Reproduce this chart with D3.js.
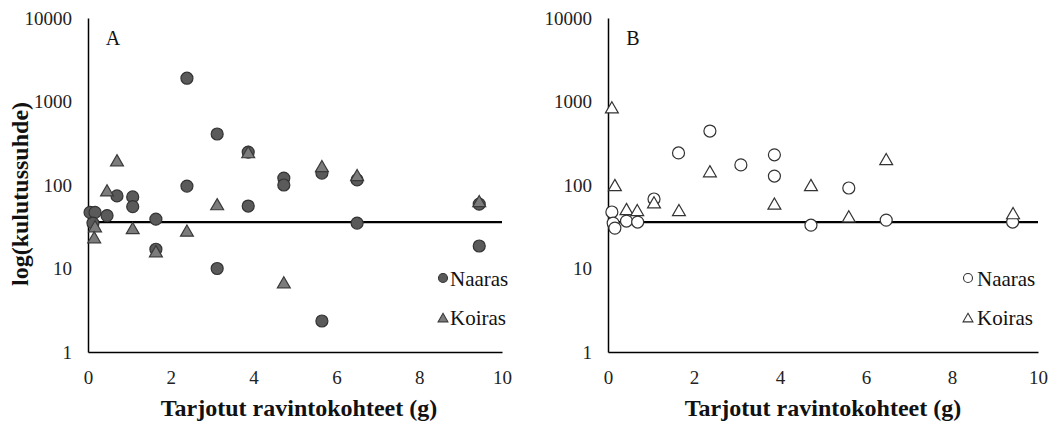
<!DOCTYPE html>
<html>
<head>
<meta charset="utf-8">
<script src="https://cdn.jsdelivr.net/npm/d3@7"></script>
<style>
  html, body { margin: 0; padding: 0; background: #fff; }
  svg { display: block; }
  svg text { font-family: "Liberation Serif", "Times New Roman", serif !important; }
</style>
</head>
<body>
<svg id="chart" width="1062" height="425"></svg>
<script>
// ---- data ----
const yTicks = [1, 10, 100, 1000, 10000];
const xTicks = [0, 2, 4, 6, 8, 10];
const seriesNames = ["Naaras", "Koiras"];
const referenceLevel = 36;

const xA_naaras = [0.05, 0.17, 0.12, 0.46, 0.70, 1.08, 1.08, 1.64, 1.64, 2.39, 2.39, 3.12, 3.12, 3.87, 3.87, 4.73, 4.73, 5.65, 5.65, 6.50, 6.50, 9.45, 9.45];
const yA_naaras = [47, 47, 35, 43, 74, 72, 55, 39, 17, 1900, 97, 408, 10, 248, 56, 121, 100, 139, 2.35, 115, 35, 59, 18.6];
const xA_koiras = [0.17, 0.15, 0.46, 0.70, 1.08, 1.64, 2.39, 3.12, 3.87, 4.73, 5.65, 6.50, 9.45];
const yA_koiras = [30.5, 22.5, 82, 188, 29, 15.3, 27, 56, 235, 6.5, 160, 125, 61];

const xB_naaras = [0.09, 0.12, 0.16, 0.43, 0.69, 1.07, 1.64, 2.37, 3.09, 3.87, 3.87, 4.72, 5.60, 6.47, 9.41];
const yB_naaras = [47.5, 35, 30.5, 37, 36, 68, 242, 443, 174, 230, 128, 33, 92, 38, 36];
const xB_koiras = [0.09, 0.16, 0.43, 0.68, 1.07, 1.65, 2.37, 3.87, 4.72, 5.60, 6.47, 9.42];
const yB_koiras = [810, 95, 49, 47.5, 59, 47.5, 139, 57, 95, 40, 194, 43.7];

const zip = (xs, ys) => xs.map((x, i) => ({x, y: ys[i]}));
const FONT = '"Liberation Serif", "Times New Roman", serif';

const svg = d3.select("#chart").attr("font-family", FONT);

function drawPanel(cfg) {
  const x = d3.scaleLinear().domain([0, 10]).range([cfg.left, cfg.right]);
  const y = d3.scaleLog().domain([1, 10000]).range([cfg.bottom, cfg.top]);
  const g = svg.append("g");

  // y axis
  const yAxis = d3.axisLeft(y).tickValues(yTicks).tickFormat(d3.format("d")).tickSize(0).tickPadding(16);
  const ya = g.append("g").attr("transform", `translate(${cfg.left},0)`).call(yAxis)
    .attr("font-family", FONT).attr("font-size", 19);
  ya.select(".domain").attr("stroke", "#000").attr("stroke-width", 1.5);
  ya.selectAll("text").attr("fill", "#222");

  // x axis
  const xAxis = d3.axisBottom(x).tickValues(xTicks).tickSize(0).tickPadding(19);
  const xa = g.append("g").attr("transform", `translate(0,${cfg.bottom})`).call(xAxis)
    .attr("font-family", FONT).attr("font-size", 19);
  xa.select(".domain").attr("stroke", "#000").attr("stroke-width", 1.5);
  xa.selectAll("text").attr("fill", "#222");

  // reference line
  g.append("line")
    .attr("x1", x(0)).attr("x2", x(10))
    .attr("y1", y(referenceLevel)).attr("y2", y(referenceLevel))
    .attr("stroke", "#000").attr("stroke-width", 2.2);

  // circles (Naaras)
  g.append("g").selectAll("circle").data(zip(cfg.xn, cfg.yn)).join("circle")
    .attr("cx", d => x(d.x)).attr("cy", d => y(d.y)).attr("r", 6)
    .attr("fill", cfg.circleFill).attr("stroke", cfg.circleStroke).attr("stroke-width", 1.2);

  // triangles (Koiras)
  const tri = d3.symbol().type(d3.symbolTriangle).size(72);
  g.append("g").selectAll("path").data(zip(cfg.xk, cfg.yk)).join("path")
    .attr("d", tri)
    .attr("transform", d => `translate(${x(d.x)},${y(d.y)})`)
    .attr("fill", cfg.triFill).attr("stroke", cfg.triStroke).attr("stroke-width", 1.2);

  // panel letter
  g.append("text").attr("x", cfg.left + 25).attr("y", 45)
    .attr("font-size", 20).attr("fill", "#111").attr("text-anchor", "middle").text(cfg.letter);

  // legend
  const lx = cfg.legendX, ly = cfg.legendY;
  g.append("circle").attr("cx", lx).attr("cy", ly).attr("r", 4.5)
    .attr("fill", cfg.circleFill).attr("stroke", cfg.circleStroke).attr("stroke-width", 1.1);
  g.append("text").attr("x", lx + cfg.legendGap).attr("y", ly + 8).attr("font-size", 21).attr("fill", "#111").text(seriesNames[0]);
  g.append("path").attr("d", d3.symbol().type(d3.symbolTriangle).size(42))
    .attr("transform", `translate(${lx},${ly + 41})`)
    .attr("fill", cfg.triFill).attr("stroke", cfg.triStroke).attr("stroke-width", 1.1);
  g.append("text").attr("x", lx + cfg.legendGap).attr("y", ly + 47).attr("font-size", 21).attr("fill", "#111").text(seriesNames[1]);

  // x title
  g.append("text").attr("x", (cfg.left + cfg.right) / 2 + cfg.titleShift).attr("y", 416)
    .attr("text-anchor", "middle").attr("font-size", 24).attr("font-weight", "bold").attr("fill", "#111")
    .text("Tarjotut ravintokohteet (g)");
}

drawPanel({
  left: 88, right: 502, top: 18, bottom: 352, letter: "A",
  xn: xA_naaras, yn: yA_naaras, xk: xA_koiras, yk: yA_koiras,
  circleFill: "#5a5a5a", circleStroke: "#333", triFill: "#7c7c7c", triStroke: "#3a3a3a",
  legendX: 443, legendY: 278, legendGap: 7, titleShift: 4
});
drawPanel({
  left: 608, right: 1038, top: 18, bottom: 352, letter: "B",
  xn: xB_naaras, yn: yB_naaras, xk: xB_koiras, yk: yB_koiras,
  circleFill: "#fff", circleStroke: "#333", triFill: "#fff", triStroke: "#333",
  legendX: 968, legendY: 278, legendGap: 9, titleShift: 0
});

// y title
svg.append("text").attr("transform", "translate(28,194) rotate(-90)")
  .attr("text-anchor", "middle").attr("font-size", 24).attr("font-weight", "bold").attr("fill", "#111")
  .text("log(kulutussuhde)");
</script>
</body>
</html>
